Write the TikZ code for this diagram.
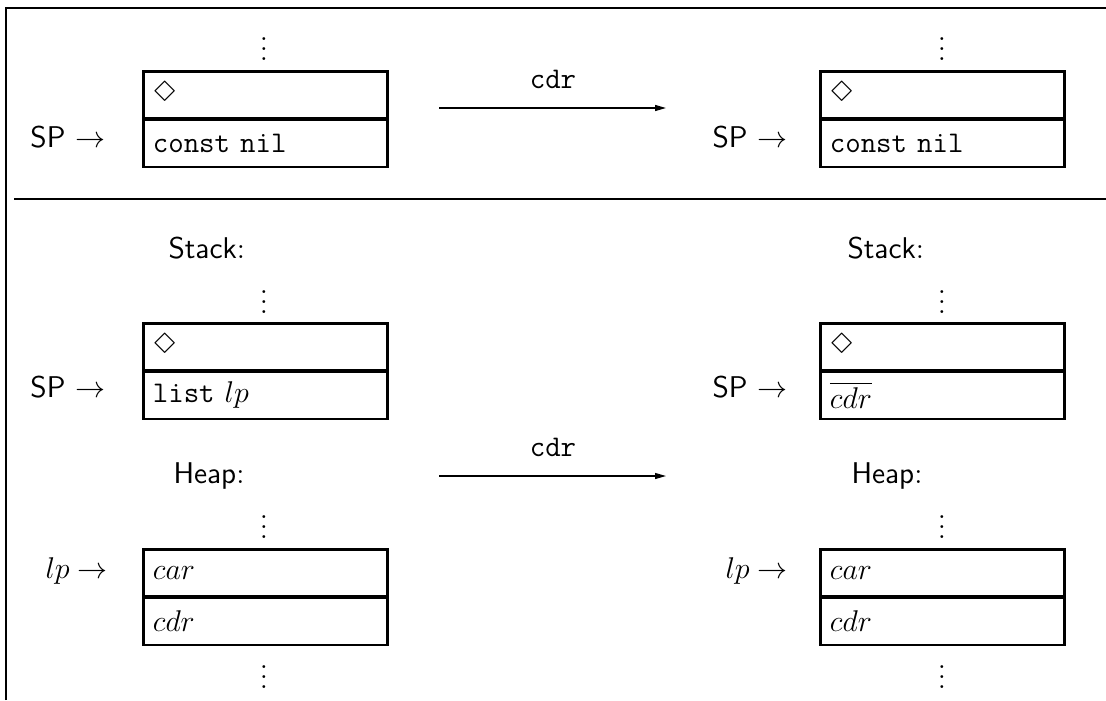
\documentclass[tikz,border=0pt]{standalone}
\usepackage{latexsym}
\usepackage{fontspec}
\usetikzlibrary{arrows.meta}

\begin{document}
\begin{tikzpicture}[x=0.4pt,y=-0.4pt,font=\large,
    cell/.style={draw,line width=1.1pt,anchor=north west,minimum width=97.6pt,minimum height=18.8pt,
      inner xsep=3.8pt,text width=90pt,align=left},
    lbl/.style={anchor=base west,inner sep=0pt},
    dots/.style={inner sep=0pt},
    trans/.style={line width=1pt,-{Triangle[length=4.8pt,width=2.2pt]}}]
  \useasboundingbox (0,0) rectangle (1106,700);
  % frame
  \draw[line width=1.1pt] (6,700) -- (6,8) -- (1106,8);
  \draw[line width=1.1pt] (14,199) -- (1106,199);

  % upper part
  \node[dots] (dA) at (264,42) {$\vdots$}; \node[dots] (dB) at (942,42) {$\vdots$};
  \node[cell] (a1) at (142,70) {$\Diamond$}; \node[cell] (a2) at (142,118.5) {\texttt{const nil}};
  \node[cell] (b1) at (819,70) {$\Diamond$}; \node[cell] (b2) at (819,118.5) {\texttt{const nil}};
  \node[lbl] (spA) at (30,147) {\textsf{SP} $\rightarrow$}; \node[lbl] (spB) at (712,147) {\textsf{SP} $\rightarrow$};
  \coordinate (s1) at (439,108); \coordinate (s2) at (667,108);
  \draw[trans] (s1) -- node[above=4pt] {\texttt{cdr}} (s2);

  % lower part: stack
  \node[lbl] (stA) at (168,258) {\textsf{Stack}:}; \node[lbl] (stB) at (847,258) {\textsf{Stack}:};
  \node[dots] (dC) at (264,295) {$\vdots$}; \node[dots] (dD) at (942,295) {$\vdots$};
  \node[cell] (c1) at (142,322) {$\Diamond$}; \node[cell] (c2) at (142,370.5) {\texttt{list} $lp$};
  \node[cell] (e1) at (819,322) {$\Diamond$}; \node[cell] (e2) at (819,370.5) {$\overline{cdr}$};
  \node[lbl] (spC) at (30,397) {\textsf{SP} $\rightarrow$}; \node[lbl] (spD) at (712,397) {\textsf{SP} $\rightarrow$};

  % lower part: heap
  \node[lbl] (hpA) at (173,483) {\textsf{Heap}:}; \node[lbl] (hpB) at (851,483) {\textsf{Heap}:};
  \node[dots] (dE) at (264,520) {$\vdots$}; \node[dots] (dF) at (942,520) {$\vdots$};
  \node[cell] (f1) at (142,548) {$car$}; \node[cell] (f2) at (142,596.5) {$cdr$};
  \node[cell] (g1) at (819,548) {$car$}; \node[cell] (g2) at (819,596.5) {$cdr$};
  \node[lbl] (lpA) at (45,578) {$lp \rightarrow$}; \node[lbl] (lpB) at (725,578) {$lp \rightarrow$};
  \node[dots] (dG) at (264,670) {$\vdots$}; \node[dots] (dH) at (942,670) {$\vdots$};
  \coordinate (t1) at (439,476); \coordinate (t2) at (667,476);
  \draw[trans] (t1) -- node[above=4pt] {\texttt{cdr}} (t2);
\end{tikzpicture}
\end{document}
